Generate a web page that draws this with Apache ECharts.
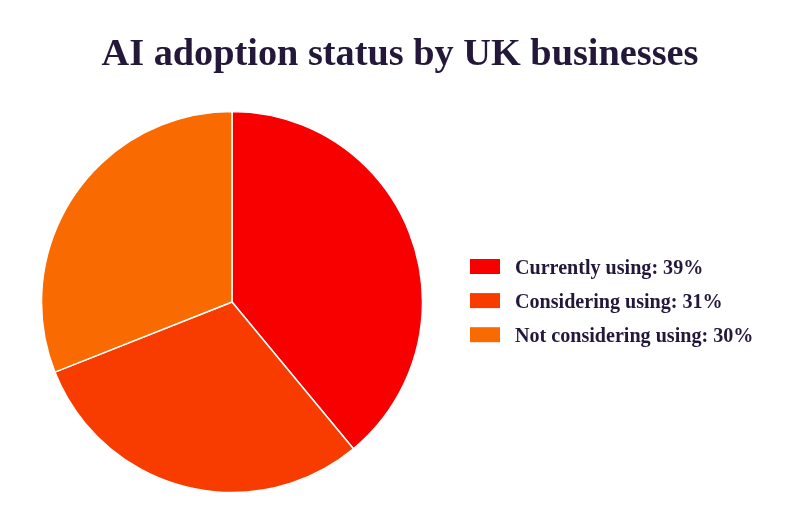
<!DOCTYPE html>
<html>
<head>
<meta charset="utf-8">
<style>
  html, body { margin: 0; padding: 0; background: #fff; }
  #chart { width: 800px; height: 523px; }
</style>
<script src="https://cdn.jsdelivr.net/npm/echarts@6/dist/echarts.min.js"></script>
</head>
<body>
<div id="chart"></div>
<script>
const titleText = 'AI adoption status by UK businesses'
const categories = ['Currently using: 39%', 'Considering using: 31%', 'Not considering using: 30%']
// slice sizes: the drawn middle slice is the smaller of the two
const values = [39, 30, 31]
const colors = ['#f90000', '#f83c00', '#f96b00']

const font = '"Liberation Serif", "DejaVu Serif", serif'

const chart = echarts.init(document.getElementById('chart'), null, { renderer: 'canvas' })
chart.setOption({
  animation: false,
  title: {
    text: titleText,
    left: 'center',
    top: 31,
    textStyle: { fontFamily: font, fontSize: 38.3, fontWeight: 'bold', color: '#24183a' }
  },
  legend: {
    orient: 'vertical',
    left: 470,
    top: 254,
    padding: 0,
    itemWidth: 30,
    itemHeight: 15,
    itemGap: 9.1,
    icon: 'rect',
    itemStyle: { borderWidth: 0 },
    selectedMode: false,
    formatter: '{t|{name}}',
    textStyle: {
      rich: {
        t: { fontFamily: font, fontSize: 20.1, fontWeight: 'bold', color: '#24183a', lineHeight: 15, padding: [5, 0, 0, 10] }
      }
    }
  },
  series: [{
    type: 'pie',
    center: [232, 302],
    radius: [0, 190.5],
    startAngle: 90,
    clockwise: true,
    label: { show: false },
    labelLine: { show: false },
    silent: true,
    itemStyle: { borderColor: '#fff', borderWidth: 1.5 },
    data: categories.map((name, i) => ({ name, value: values[i], itemStyle: { color: colors[i] } }))
  }]
})
</script>
</body>
</html>
